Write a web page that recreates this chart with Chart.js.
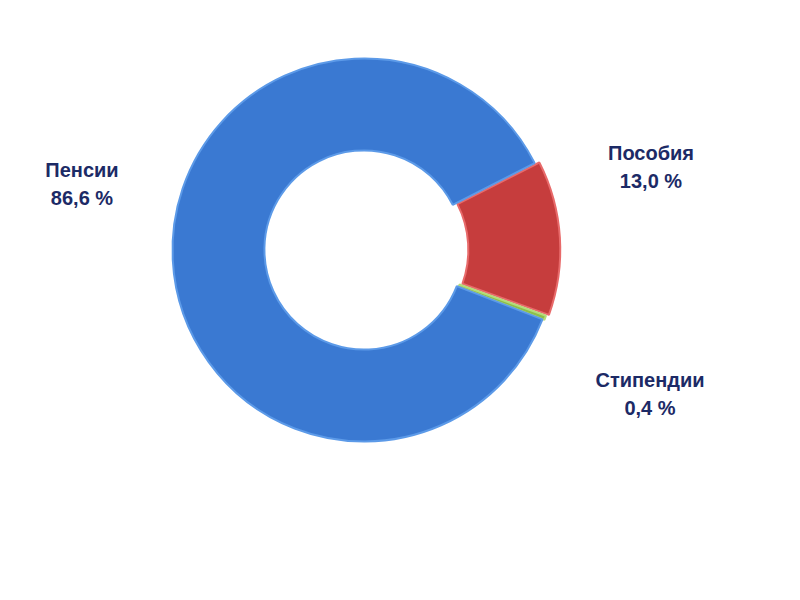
<!DOCTYPE html>
<html><head><meta charset="utf-8">
<script src="https://cdn.jsdelivr.net/npm/chart.js@4"></script>
<style>
body{margin:0;width:800px;height:600px;background:#fff;position:relative;font-family:"Liberation Sans",Arial,sans-serif;}
#wrap{position:absolute;left:164px;top:50px;width:400px;height:400px;}
.lbl{position:absolute;color:#1c2a66;font-weight:bold;font-size:20px;text-align:center;line-height:28px;width:160px;}
</style></head><body>
<div id="wrap"><canvas id="c"></canvas></div>
<div class="lbl" style="left:2px;top:156px">Пенсии<br>86,6 %</div>
<div class="lbl" style="left:571px;top:139px">Пособия<br>13,0 %</div>
<div class="lbl" style="left:570px;top:366px">Стипендии<br>0,4 %</div>
<script>
const categories=["Пособия","Стипендии","Пенсии"];
const values=[13.0,0.4,86.6];
const colors=["#c63d3d","#8dbf4a","#3a79d2"];
const borders=["#e86a6a","#b4dc7a","#5c9ae8"];
new Chart(document.getElementById('c'),{
 type:'doughnut',
 data:{labels:categories,datasets:[{data:values,backgroundColor:colors,borderColor:borders,borderWidth:2,offset:[15,4,0]}]},
 options:{responsive:true,maintainAspectRatio:false,animation:false,rotation:63,cutout:'52%',
  layout:{padding:0},
  plugins:{legend:{display:false},tooltip:{enabled:false}}}
});
</script></body></html>
